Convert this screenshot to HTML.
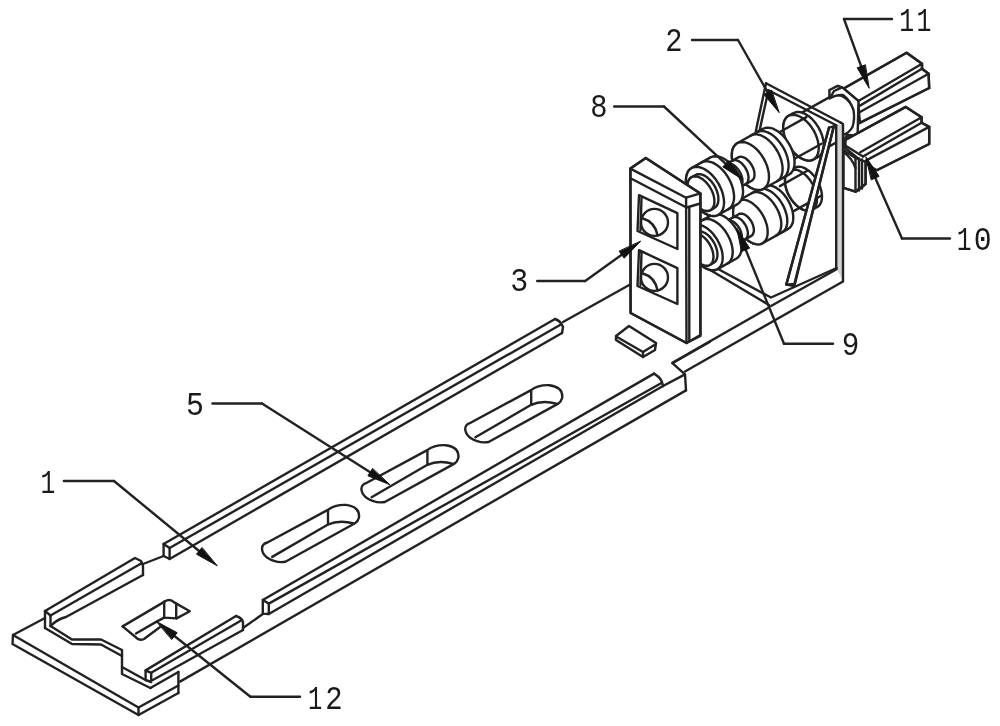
<!DOCTYPE html>
<html><head><meta charset="utf-8"><style>
html,body{margin:0;padding:0;background:#fff;}
svg{display:block;filter:blur(0.3px);}
text{font-family:"Liberation Mono";font-size:33px;fill:#1a1a1a;}
</style></head><body>
<svg width="1000" height="726" viewBox="0 0 1000 726">
<g fill="none" stroke="#222" stroke-width="2.4" stroke-linejoin="round" stroke-linecap="round">
<path d="M45.0,618.0 L13.0,635.0 L138.5,707.5 L178.4,685.5"/>
<path d="M13.0,635.0 L12.5,644.0 L138.5,715.0 L178.4,693.0"/>
<path d="M138.5,707.5 L138.5,715.0"/>
<path d="M178.4,672.0 L178.4,693.0"/>
<path d="M45.0,611.0 L45.0,628.0"/>
<path d="M50.5,615.5 L50.5,626.0"/>
<path d="M50.5,626.0 L72.0,639.5 L101.0,639.5 L122.0,650.0 L122.0,674.0 L150.4,688.0"/>
<path d="M45.0,628.0 L72.0,644.0 L101.0,644.5 L122.0,656.0"/>
<path d="M122.0,667.0 L145.6,680.0"/>
<path d="M150.4,688.0 L178.4,672.0"/>
<path d="M45.0,611.0 L135.0,558.0 L141.0,561.0 L143.0,566.0 L143.0,575.0"/>
<path d="M50.5,615.5 L142.0,563.0"/>
<path d="M51.5,625 Q58,619 66,617 L143,575"/>
<path d="M45.0,611.0 L50.5,615.5"/>
<path d="M143.0,564.0 L163.6,556.0"/>
<path d="M163.6,544.0 L169.6,548.0 L169.6,559.0 L163.6,556.0 L163.6,544.0"/>
<path d="M163.6,544.0 L555.0,319.0"/>
<path d="M555,319 Q561,321 563,327 L562,333"/>
<path d="M169.6,548.0 L560.0,325.0"/>
<path d="M169.6,559.0 L562.0,333.0"/>
<path d="M563.0,322.0 L631.0,284.0"/>
<path d="M145.6,670.4 L151.2,672.8 L151.2,682.0 L145.6,680.0 L145.6,670.4"/>
<path d="M145.6,670.4 L236.0,616.0"/>
<path d="M236,616 Q242,618 243,622 L243,630"/>
<path d="M151.2,672.8 L242.0,620.0"/>
<path d="M152.8,680.0 L243.0,630.0"/>
<path d="M243.0,628.0 L262.8,614.0"/>
<path d="M262.8,600.0 L268.8,603.6 L268.8,614.0 L262.8,613.6 L262.8,600.0"/>
<path d="M262.8,600.0 L654.0,373.6"/>
<path d="M654,373.6 Q660,377 662,382 L663,386"/>
<path d="M268.8,603.6 L661.0,383.3"/>
<path d="M268.8,614.0 L663.0,386.0"/>
<path d="M663.0,386.0 L685.0,374.4 L686.0,390.4"/>
<path d="M180.0,681.6 L686.0,390.4"/>
<path d="M685.0,374.4 L672.4,363.2 L710.0,341.6"/>
<path d="M122.6,626.4 L164.6,601.6"/>
<path d="M164.6,601.6 Q170,598 174.2,602.4 L189.8,611.2 L176.6,618.4"/>
<path d="M164.2,602.0 L164.2,617.6 L176.2,618.4 L176.2,604.0"/>
<path d="M122.6,626.4 L138.2,639.2 Q141,640.5 144,639 L159.8,627.2"/>
<path d="M136.0,633.5 L156.6,621.6 L164.2,617.6"/>
<path d="M262.0,548.5 Q262.0,544.0 267.4,542.5 L327.4,510.1 Q335.0,504.5 346.0,504.9 Q360.0,506.5 359.0,517.5 Q358.0,521.5 355.0,523.3 L285.4,561.7 Q276.0,563.5 267.0,557.5 Q262.0,553.5 262.0,548.5Z"/>
<path d="M328.0,510.1 L328.0,524.5 Q339.0,519.5 354.0,523.5"/>
<path d="M272.2,556.9 L328.0,524.5"/>
<path d="M361.4,488.8 Q361.4,484.3 366.8,482.8 L426.8,450.4 Q434.4,444.8 445.4,445.2 Q459.4,446.8 458.4,457.8 Q457.4,461.8 454.4,463.6 L384.8,502.0 Q375.4,503.8 366.4,497.8 Q361.4,493.8 361.4,488.8Z"/>
<path d="M427.4,450.4 L427.4,464.8 Q438.4,459.8 453.4,463.8"/>
<path d="M371.6,497.2 L427.4,464.8"/>
<path d="M465.2,428.8 Q465.2,424.3 470.6,422.8 L530.6,390.4 Q538.2,384.8 549.2,385.2 Q563.2,386.8 562.2,397.8 Q561.2,401.8 558.2,403.6 L488.6,442.0 Q479.2,443.8 470.2,437.8 Q465.2,433.8 465.2,428.8Z"/>
<path d="M531.2,390.4 L531.2,404.8 Q542.2,399.8 557.2,403.8"/>
<path d="M475.4,437.2 L531.2,404.8"/>
<path d="M616.0,336.0 L629.0,326.0 L656.0,343.0 L655.0,350.0 L643.0,357.0 L616.0,340.0 L616.0,336.0"/>
<path d="M617.0,337.0 L643.0,352.0 L656.0,344.0"/>
<path d="M643.0,352.0 L643.0,357.0"/>
<path d="M843.7,88.5 L906.6,52.7 L922.0,63.7 L922.0,68.7 L928.6,73.7 L929.2,88.0 L860.0,123.0 L858.0,101.0Z" fill="#fff"/>
<path d="M838.0,85.8 L843.7,88.5 L906.6,52.7 L922.0,63.7 L922.0,68.7 L928.6,73.7 L929.2,88.0"/>
<path d="M922.0,63.7 L858.0,101.2"/>
<path d="M922.0,68.7 L860.0,105.6"/>
<path d="M928.6,73.7 L860.0,112.0"/>
<path d="M929.2,88.0 L860.0,122.5"/>
<path d="M790.8,126.1 L791.0,123.5 L791.6,121.1 L792.5,119.1 L793.7,117.5 L795.3,116.3 L832.3,95.6 L834.1,94.8 L836.1,94.6 L838.3,94.8 L840.6,95.5 L843.0,96.6 L845.4,98.2 L847.7,100.2 L849.9,102.5 L851.9,105.1 L853.7,108.0 L855.3,110.9 L856.5,114.0 L857.4,117.1 L858.0,120.0 L858.2,122.9 L858.0,125.5 L857.4,127.9 L856.5,129.9 L855.3,131.5 L853.7,132.7 L816.7,153.4 L814.9,154.2 L812.9,154.4 L810.7,154.2 L808.4,153.5 L806.0,152.4 L803.6,150.8 L801.3,148.8 L799.1,146.5 L797.1,143.9 L795.3,141.1 L793.7,138.1 L792.5,135.0 L791.6,132.0 L791.0,129.0Z" fill="#fff"/>
<path d="M829.4,98.5 L829.4,90 L837.1,86.1 L842.2,87.4 L858.5,101 L857.6,136 L843.9,134.4 Q849,133 852.5,127 Q855,119 853.5,110 Q850,100 843,95 Q836,94.5 829.4,98.5 Z" fill="#fff"/>
<path d="M831.0,96.4 L834.0,91.0 L842.2,87.4"/>
<path d="M845.2,140.0 L905.8,106.9 L921.6,117.2 L921.6,122.7 L929.2,126.9 L929.2,144.0 L876.8,170.2 L860.0,160.0 L845.2,148.0Z" fill="#fff"/>
<path d="M845.2,148.0 L845.2,140.0 L905.8,106.9 L921.6,117.2 L921.6,122.7 L929.2,126.9 L929.2,144.0 L876.8,170.2"/>
<path d="M921.6,117.2 L860.3,152.3"/>
<path d="M921.6,122.7 L863.0,156.5"/>
<path d="M929.2,126.9 L865.8,160.6"/>
<path d="M845.2,145.5 L863.0,156.5"/>
<path d="M843.5,150 L855.5,158 L865.6,161.8 L865.6,184 L855.5,191.7 L843.5,187.8 Z" fill="#fff"/>
<path d="M843.5,187.8 L855.5,191.7 L865.6,184.0 L865.6,161.8"/>
<path d="M855.5,158.0 L855.5,191.7"/>
<path d="M859.0,158.5 L859.0,190.5"/>
<path d="M862.0,159.5 L862.0,188.5"/>
<path d="M843.5,152 Q852,158 855.5,168"/>
<path d="M766.0,83.2 L841.0,122.8"/>
<path d="M768.0,90.0 L836.2,125.2"/>
<path d="M766.0,83.2 L755.8,131.2"/>
<path d="M768.4,90.4 L759.4,131.2"/>
<path d="M836.2,125.2 L843,124 L843,281 L836.2,268 Z" fill="#d4d4d4" stroke="none"/>
<path d="M836.2,125.2 L836.2,268.0"/>
<path d="M841.0,122.8 L843.0,124.0 L843.0,281.0"/>
<path d="M706.0,267.5 L769.0,305.0"/>
<path d="M719.0,269.5 L771.0,297.5 L836.6,268.0"/>
<path d="M672.4,362.8 L769.0,307.5"/>
<path d="M771.0,306.0 L836.6,269.2"/>
<path d="M685.0,371.5 L843.0,281.5"/>
<path d="M785.0,180.9 L785.2,178.1 L785.8,175.6 L786.7,173.5 L788.0,171.8 L789.7,170.5 L794.7,167.7 L796.6,167.0 L798.7,166.7 L801.0,166.9 L803.5,167.6 L806.0,168.9 L808.5,170.5 L811.0,172.6 L813.3,175.1 L815.4,177.8 L817.3,180.8 L819.0,184.0 L820.3,187.2 L821.2,190.4 L821.8,193.6 L822.0,196.6 L821.8,199.4 L821.2,201.9 L820.3,204.0 L819.0,205.7 L817.3,207.0 L812.3,209.8 L810.4,210.6 L808.3,210.8 L806.0,210.6 L803.5,209.9 L801.0,208.7 L798.5,207.0 L796.0,204.9 L793.7,202.4 L791.6,199.7 L789.7,196.7 L788.0,193.6 L786.7,190.3 L785.8,187.1 L785.2,183.9Z" fill="#fff"/>
<path d="M817.0,199.4 L816.8,202.2 L816.2,204.7 L815.3,206.8 L814.0,208.5 L812.3,209.8 L810.4,210.6 L808.3,210.8 L806.0,210.6 L803.5,209.9 L801.0,208.7 L798.5,207.0 L796.0,204.9 L793.7,202.4 L791.6,199.7 L789.7,196.7 L788.0,193.6 L786.7,190.3 L785.8,187.1 L785.2,183.9 L785.0,180.9 L785.2,178.1 L785.8,175.6 L786.7,173.5 L788.0,171.8 L789.7,170.5 L791.6,169.8 L793.7,169.5 L796.0,169.7 L798.5,170.4 L801.0,171.7 L803.5,173.3 L806.0,175.4 L808.3,177.9 L810.4,180.6 L812.3,183.6 L814.0,186.8 L815.3,190.0 L816.2,193.2 L816.8,196.4Z" fill="#fff"/>
<path d="M794.1,210.9 L821.1,195.7"/>
<path d="M779.9,186.1 L806.9,171.0"/>
<path d="M733.1,212.0 L733.3,209.0 L733.9,206.3 L735.0,204.0 L736.4,202.2 L738.2,200.8 L763.8,186.5 L765.8,185.6 L768.1,185.3 L770.6,185.6 L773.3,186.4 L776.0,187.7 L778.7,189.5 L781.4,191.7 L783.9,194.4 L786.2,197.4 L788.2,200.6 L790.0,204.0 L791.4,207.5 L792.5,211.0 L793.1,214.4 L793.3,217.7 L793.1,220.7 L792.5,223.4 L791.4,225.6 L790.0,227.5 L788.2,228.9 L762.6,243.2 L760.6,244.1 L758.3,244.4 L755.8,244.1 L753.1,243.3 L750.4,242.0 L747.7,240.2 L745.0,237.9 L742.5,235.3 L740.2,232.3 L738.2,229.1 L736.4,225.7 L735.0,222.2 L733.9,218.7 L733.3,215.3Z" fill="#fff"/>
<path d="M751.8,193.1 L753.6,192.4 L755.5,192.1 L757.5,192.1 L759.6,192.5 L761.9,193.3 L764.1,194.5 L766.4,196.0 L768.6,197.8 L770.7,199.9 L772.8,202.2 L774.6,204.8 L776.3,207.5 L777.8,210.3 L779.1,213.2 L780.0,216.1 L780.8,219.0 L781.2,221.8 L781.3,224.5 L781.1,227.0 L780.7,229.3 L779.9,231.4 L778.9,233.1 L777.7,234.6 L776.2,235.6"/>
<path d="M757.8,189.8 L759.6,189.0 L761.5,188.7 L763.5,188.7 L765.6,189.2 L767.9,190.0 L770.1,191.1 L772.4,192.6 L774.6,194.4 L776.7,196.5 L778.8,198.8 L780.6,201.4 L782.3,204.1 L783.8,206.9 L785.1,209.9 L786.0,212.8 L786.8,215.7 L787.2,218.5 L787.3,221.2 L787.1,223.7 L786.7,226.0 L785.9,228.0 L784.9,229.8 L783.7,231.2 L782.2,232.3"/>
<path d="M767.7,232.0 L767.5,235.0 L766.9,237.7 L765.8,240.0 L764.4,241.8 L762.6,243.2 L760.6,244.1 L758.3,244.4 L755.8,244.1 L753.1,243.3 L750.4,242.0 L747.7,240.2 L745.0,237.9 L742.5,235.3 L740.2,232.3 L738.2,229.1 L736.4,225.7 L735.0,222.2 L733.9,218.7 L733.3,215.3 L733.1,212.0 L733.3,209.0 L733.9,206.3 L735.0,204.0 L736.4,202.2 L738.2,200.8 L740.2,199.9 L742.5,199.6 L745.0,199.9 L747.7,200.7 L750.4,202.0 L753.1,203.8 L755.8,206.1 L758.3,208.7 L760.6,211.7 L762.6,214.9 L764.4,218.3 L765.8,221.8 L766.9,225.3 L767.5,228.7Z" fill="#fff"/>
<path d="M724.1,226.6 L724.2,225.1 L724.6,223.7 L725.1,222.5 L725.8,221.6 L726.7,220.9 L738.7,214.2 L739.8,213.7 L741.0,213.6 L742.3,213.7 L743.6,214.1 L745.0,214.8 L746.4,215.7 L747.7,216.9 L749.0,218.2 L750.2,219.8 L751.3,221.4 L752.2,223.1 L752.9,224.9 L753.4,226.7 L753.8,228.5 L753.9,230.1 L753.8,231.7 L753.4,233.0 L752.9,234.2 L752.2,235.2 L751.3,235.9 L739.3,242.6 L738.2,243.0 L737.0,243.2 L735.7,243.1 L734.4,242.6 L733.0,242.0 L731.6,241.0 L730.3,239.9 L729.0,238.5 L727.8,237.0 L726.7,235.4 L725.8,233.6 L725.1,231.8 L724.6,230.0 L724.2,228.3Z" fill="#fff"/>
<path d="M732.8,217.5 L733.7,217.1 L734.6,217.0 L735.7,217.0 L736.8,217.2 L737.9,217.6 L739.1,218.2 L740.2,219.0 L741.4,219.9 L742.5,221.0 L743.5,222.2 L744.4,223.5 L745.3,224.8 L746.1,226.3 L746.7,227.8 L747.2,229.3 L747.6,230.8 L747.8,232.2 L747.9,233.6 L747.8,234.9 L747.5,236.0 L747.2,237.1 L746.6,238.0 L746.0,238.7 L745.2,239.3"/>
<path d="M741.9,236.9 L741.8,238.4 L741.4,239.8 L740.9,240.9 L740.2,241.9 L739.3,242.6 L738.2,243.0 L737.0,243.2 L735.7,243.1 L734.4,242.6 L733.0,242.0 L731.6,241.0 L730.3,239.9 L729.0,238.5 L727.8,237.0 L726.7,235.4 L725.8,233.6 L725.1,231.8 L724.6,230.0 L724.2,228.3 L724.1,226.6 L724.2,225.1 L724.6,223.7 L725.1,222.5 L725.8,221.6 L726.7,220.9 L727.8,220.5 L729.0,220.3 L730.3,220.4 L731.6,220.8 L733.0,221.5 L734.4,222.4 L735.7,223.6 L737.0,225.0 L738.2,226.5 L739.3,228.1 L740.2,229.9 L740.9,231.7 L741.4,233.4 L741.8,235.2Z" fill="#fff"/>
<path d="M687.3,237.2 L687.5,234.1 L688.1,231.4 L689.2,229.0 L690.7,227.1 L692.5,225.7 L711.5,215.1 L713.6,214.2 L716.0,213.9 L718.5,214.2 L721.2,215.0 L724.0,216.3 L726.8,218.2 L729.5,220.5 L732.0,223.2 L734.4,226.2 L736.5,229.6 L738.3,233.0 L739.8,236.6 L740.9,240.2 L741.5,243.7 L741.7,247.0 L741.5,250.1 L740.9,252.8 L739.8,255.2 L738.3,257.1 L736.5,258.5 L717.5,269.1 L715.4,270.0 L713.0,270.3 L710.5,270.0 L707.8,269.2 L705.0,267.9 L702.2,266.0 L699.5,263.7 L697.0,261.0 L694.6,258.0 L692.5,254.7 L690.7,251.2 L689.2,247.6 L688.1,244.0 L687.5,240.5Z" fill="#fff"/>
<path d="M702.6,220.1 L704.3,219.3 L706.3,219.0 L708.3,219.0 L710.5,219.4 L712.8,220.3 L715.1,221.4 L717.4,223.0 L719.7,224.8 L721.9,227.0 L724.0,229.4 L725.9,232.0 L727.6,234.8 L729.1,237.7 L730.4,240.6 L731.4,243.6 L732.1,246.6 L732.6,249.5 L732.7,252.2 L732.5,254.8 L732.1,257.1 L731.3,259.2 L730.3,261.0 L729.0,262.5 L727.4,263.6"/>
<path d="M722.7,257.7 L722.5,260.7 L721.9,263.5 L720.8,265.8 L719.3,267.7 L717.5,269.1 L715.4,270.0 L713.0,270.3 L710.5,270.0 L707.8,269.2 L705.0,267.9 L702.2,266.0 L699.5,263.7 L697.0,261.0 L694.6,258.0 L692.5,254.7 L690.7,251.2 L689.2,247.6 L688.1,244.0 L687.5,240.5 L687.3,237.2 L687.5,234.1 L688.1,231.4 L689.2,229.0 L690.7,227.1 L692.5,225.7 L694.6,224.9 L697.0,224.5 L699.5,224.8 L702.2,225.6 L705.0,227.0 L707.8,228.8 L710.5,231.1 L713.0,233.8 L715.4,236.9 L717.5,240.2 L719.3,243.7 L720.8,247.3 L721.9,250.8 L722.5,254.3Z" fill="#fff"/>
<path d="M688.5,242.5 L688.7,240.3 L689.1,238.4 L689.9,236.7 L690.9,235.4 L692.2,234.4 L696.2,232.1 L697.7,231.5 L699.3,231.3 L701.1,231.5 L703.0,232.1 L705.0,233.0 L707.0,234.3 L708.9,235.9 L710.7,237.9 L712.3,240.0 L713.8,242.3 L715.1,244.8 L716.1,247.3 L716.9,249.8 L717.3,252.3 L717.5,254.6 L717.3,256.8 L716.9,258.7 L716.1,260.4 L715.1,261.7 L713.8,262.7 L709.8,265.0 L708.3,265.6 L706.7,265.8 L704.9,265.6 L703.0,265.0 L701.0,264.1 L699.0,262.8 L697.1,261.1 L695.3,259.2 L693.7,257.1 L692.2,254.8 L690.9,252.3 L689.9,249.8 L689.1,247.3 L688.7,244.8Z" fill="#fff"/>
<path d="M713.5,256.9 L713.3,259.0 L712.9,261.0 L712.1,262.6 L711.1,264.0 L709.8,265.0 L708.3,265.6 L706.7,265.8 L704.9,265.6 L703.0,265.0 L701.0,264.1 L699.0,262.8 L697.1,261.1 L695.3,259.2 L693.7,257.1 L692.2,254.8 L690.9,252.3 L689.9,249.8 L689.1,247.3 L688.7,244.8 L688.5,242.5 L688.7,240.3 L689.1,238.4 L689.9,236.7 L690.9,235.4 L692.2,234.4 L693.7,233.8 L695.3,233.5 L697.1,233.7 L699.0,234.3 L701.0,235.2 L703.0,236.6 L704.9,238.2 L706.7,240.1 L708.3,242.2 L709.8,244.6 L711.1,247.0 L712.1,249.5 L712.9,252.1 L713.3,254.5Z" fill="#fff"/>
<path d="M783.2,127.4 L783.5,124.3 L784.1,121.6 L785.2,119.2 L786.6,117.3 L788.4,115.9 L793.4,113.1 L795.6,112.3 L797.9,111.9 L800.5,112.2 L803.2,113.0 L806.0,114.4 L808.8,116.2 L811.5,118.5 L814.1,121.3 L816.4,124.3 L818.6,127.6 L820.4,131.1 L821.8,134.7 L822.9,138.3 L823.5,141.8 L823.8,145.1 L823.5,148.2 L822.9,150.9 L821.8,153.3 L820.4,155.2 L818.6,156.6 L813.6,159.4 L811.4,160.3 L809.1,160.6 L806.5,160.3 L803.8,159.5 L801.0,158.2 L798.2,156.3 L795.5,154.0 L792.9,151.3 L790.6,148.2 L788.4,144.9 L786.6,141.4 L785.2,137.8 L784.1,134.3 L783.5,130.7Z" fill="#fff"/>
<path d="M818.8,147.9 L818.5,151.0 L817.9,153.7 L816.8,156.1 L815.4,158.0 L813.6,159.4 L811.4,160.3 L809.1,160.6 L806.5,160.3 L803.8,159.5 L801.0,158.2 L798.2,156.3 L795.5,154.0 L792.9,151.3 L790.6,148.2 L788.4,144.9 L786.6,141.4 L785.2,137.8 L784.1,134.3 L783.5,130.7 L783.2,127.4 L783.5,124.3 L784.1,121.6 L785.2,119.2 L786.6,117.3 L788.4,115.9 L790.6,115.1 L792.9,114.7 L795.5,115.0 L798.2,115.8 L801.0,117.2 L803.8,119.0 L806.5,121.3 L809.1,124.1 L811.4,127.1 L813.6,130.4 L815.4,133.9 L816.8,137.5 L817.9,141.1 L818.5,144.6Z" fill="#fff"/>
<path d="M794.6,158.8 L821.6,143.7"/>
<path d="M779.4,132.2 L806.4,117.1"/>
<path d="M731.8,155.2 L732.0,152.0 L732.7,149.1 L733.8,146.7 L735.3,144.7 L737.2,143.2 L762.8,128.9 L765.1,128.0 L767.5,127.6 L770.2,127.9 L773.1,128.7 L776.0,130.2 L778.9,132.1 L781.8,134.5 L784.5,137.4 L786.9,140.6 L789.2,144.1 L791.1,147.7 L792.6,151.5 L793.7,155.2 L794.4,158.9 L794.6,162.4 L794.4,165.6 L793.7,168.5 L792.6,171.0 L791.1,173.0 L789.2,174.5 L763.6,188.8 L761.3,189.7 L758.9,190.0 L756.2,189.8 L753.3,188.9 L750.4,187.5 L747.5,185.6 L744.6,183.1 L741.9,180.3 L739.5,177.1 L737.2,173.6 L735.3,169.9 L733.8,166.2 L732.7,162.4 L732.0,158.7Z" fill="#fff"/>
<path d="M750.9,135.5 L752.8,134.7 L754.8,134.4 L757.0,134.4 L759.3,134.9 L761.7,135.7 L764.1,137.0 L766.6,138.6 L769.0,140.5 L771.3,142.8 L773.4,145.3 L775.4,148.0 L777.3,151.0 L778.9,154.0 L780.2,157.1 L781.3,160.3 L782.0,163.4 L782.5,166.4 L782.6,169.3 L782.4,172.0 L781.9,174.5 L781.1,176.7 L780.1,178.5 L778.7,180.1 L777.1,181.2"/>
<path d="M756.9,132.2 L758.8,131.4 L760.8,131.0 L763.0,131.1 L765.3,131.5 L767.7,132.4 L770.1,133.6 L772.6,135.2 L775.0,137.2 L777.3,139.4 L779.4,141.9 L781.4,144.7 L783.3,147.6 L784.9,150.6 L786.2,153.8 L787.3,156.9 L788.0,160.0 L788.5,163.0 L788.6,165.9 L788.4,168.6 L787.9,171.1 L787.1,173.3 L786.1,175.2 L784.7,176.7 L783.1,177.9"/>
<path d="M769.0,176.8 L768.8,180.0 L768.1,182.9 L767.0,185.3 L765.5,187.3 L763.6,188.8 L761.3,189.7 L758.9,190.0 L756.2,189.8 L753.3,188.9 L750.4,187.5 L747.5,185.6 L744.6,183.1 L741.9,180.3 L739.5,177.1 L737.2,173.6 L735.3,169.9 L733.8,166.2 L732.7,162.4 L732.0,158.7 L731.8,155.2 L732.0,152.0 L732.7,149.1 L733.8,146.7 L735.3,144.7 L737.2,143.2 L739.5,142.3 L741.9,142.0 L744.6,142.2 L747.5,143.1 L750.4,144.5 L753.3,146.4 L756.2,148.9 L758.9,151.7 L761.3,154.9 L763.6,158.4 L765.5,162.1 L767.0,165.8 L768.1,169.6 L768.8,173.3Z" fill="#fff"/>
<path d="M723.5,170.2 L723.6,168.6 L723.9,167.1 L724.5,165.8 L725.3,164.8 L726.3,164.1 L738.3,157.4 L739.4,156.9 L740.7,156.7 L742.1,156.9 L743.5,157.3 L745.0,158.0 L746.5,159.0 L747.9,160.3 L749.3,161.7 L750.6,163.4 L751.7,165.1 L752.7,167.0 L753.5,168.9 L754.1,170.9 L754.4,172.7 L754.5,174.5 L754.4,176.2 L754.1,177.7 L753.5,178.9 L752.7,179.9 L751.7,180.7 L739.7,187.4 L738.6,187.9 L737.3,188.0 L735.9,187.9 L734.5,187.5 L733.0,186.7 L731.5,185.7 L730.1,184.5 L728.7,183.0 L727.4,181.4 L726.3,179.6 L725.3,177.8 L724.5,175.8 L723.9,173.9 L723.6,172.0Z" fill="#fff"/>
<path d="M732.3,160.7 L733.3,160.3 L734.3,160.1 L735.4,160.1 L736.6,160.4 L737.8,160.8 L739.1,161.4 L740.3,162.2 L741.5,163.2 L742.7,164.4 L743.8,165.7 L744.9,167.1 L745.8,168.6 L746.6,170.1 L747.3,171.7 L747.8,173.3 L748.2,174.9 L748.5,176.5 L748.5,178.0 L748.4,179.3 L748.2,180.6 L747.8,181.7 L747.2,182.7 L746.5,183.5 L745.7,184.1"/>
<path d="M742.5,181.2 L742.4,182.9 L742.1,184.4 L741.5,185.6 L740.7,186.7 L739.7,187.4 L738.6,187.9 L737.3,188.0 L735.9,187.9 L734.5,187.5 L733.0,186.7 L731.5,185.7 L730.1,184.5 L728.7,183.0 L727.4,181.4 L726.3,179.6 L725.3,177.8 L724.5,175.8 L723.9,173.9 L723.6,172.0 L723.5,170.2 L723.6,168.6 L723.9,167.1 L724.5,165.8 L725.3,164.8 L726.3,164.1 L727.4,163.6 L728.7,163.4 L730.1,163.6 L731.5,164.0 L733.0,164.7 L734.5,165.7 L735.9,167.0 L737.3,168.4 L738.6,170.1 L739.7,171.9 L740.7,173.7 L741.5,175.7 L742.1,177.6 L742.4,179.5Z" fill="#fff"/>
<path d="M685.9,180.4 L686.2,177.1 L686.9,174.2 L688.0,171.6 L689.6,169.6 L691.5,168.1 L710.5,157.4 L712.8,156.5 L715.4,156.2 L718.1,156.5 L721.0,157.3 L724.0,158.8 L727.0,160.8 L729.9,163.3 L732.6,166.2 L735.2,169.5 L737.5,173.0 L739.4,176.8 L741.0,180.6 L742.1,184.4 L742.8,188.2 L743.1,191.8 L742.8,195.1 L742.1,198.0 L741.0,200.6 L739.4,202.6 L737.5,204.1 L718.5,214.8 L716.2,215.7 L713.6,216.0 L710.9,215.7 L708.0,214.9 L705.0,213.4 L702.0,211.4 L699.1,208.9 L696.4,206.0 L693.8,202.8 L691.5,199.2 L689.6,195.5 L688.0,191.6 L686.9,187.8 L686.2,184.0Z" fill="#fff"/>
<path d="M701.6,162.4 L703.5,161.6 L705.6,161.3 L707.8,161.3 L710.2,161.8 L712.7,162.6 L715.1,163.9 L717.6,165.6 L720.1,167.5 L722.4,169.8 L724.7,172.4 L726.7,175.2 L728.6,178.2 L730.2,181.3 L731.6,184.5 L732.7,187.8 L733.4,190.9 L733.9,194.0 L734.1,197.0 L733.9,199.8 L733.4,202.3 L732.5,204.5 L731.4,206.5 L730.0,208.0 L728.4,209.2"/>
<path d="M724.1,202.4 L723.8,205.7 L723.1,208.7 L722.0,211.2 L720.4,213.3 L718.5,214.8 L716.2,215.7 L713.6,216.0 L710.9,215.7 L708.0,214.9 L705.0,213.4 L702.0,211.4 L699.1,208.9 L696.4,206.0 L693.8,202.8 L691.5,199.2 L689.6,195.5 L688.0,191.6 L686.9,187.8 L686.2,184.0 L685.9,180.4 L686.2,177.1 L686.9,174.2 L688.0,171.6 L689.6,169.6 L691.5,168.1 L693.8,167.2 L696.4,166.8 L699.1,167.1 L702.0,168.0 L705.0,169.4 L708.0,171.4 L710.9,173.9 L713.6,176.8 L716.2,180.1 L718.5,183.6 L720.4,187.4 L722.0,191.2 L723.1,195.1 L723.8,198.8Z" fill="#fff"/>
<path d="M687.6,185.9 L687.7,183.6 L688.2,181.5 L689.0,179.7 L690.1,178.3 L691.5,177.2 L695.5,175.0 L697.1,174.3 L698.9,174.1 L700.9,174.3 L702.9,174.9 L705.0,175.9 L707.1,177.3 L709.1,179.1 L711.1,181.1 L712.9,183.4 L714.5,185.9 L715.9,188.6 L717.0,191.3 L717.8,194.0 L718.3,196.7 L718.4,199.2 L718.3,201.5 L717.8,203.6 L717.0,205.4 L715.9,206.8 L714.5,207.9 L710.5,210.1 L708.9,210.8 L707.1,211.0 L705.1,210.8 L703.1,210.2 L701.0,209.2 L698.9,207.8 L696.9,206.0 L694.9,204.0 L693.1,201.6 L691.5,199.1 L690.1,196.5 L689.0,193.8 L688.2,191.1 L687.7,188.4Z" fill="#fff"/>
<path d="M714.4,201.4 L714.3,203.7 L713.8,205.8 L713.0,207.6 L711.9,209.0 L710.5,210.1 L708.9,210.8 L707.1,211.0 L705.1,210.8 L703.1,210.2 L701.0,209.2 L698.9,207.8 L696.9,206.0 L694.9,204.0 L693.1,201.6 L691.5,199.1 L690.1,196.5 L689.0,193.8 L688.2,191.1 L687.7,188.4 L687.6,185.9 L687.7,183.6 L688.2,181.5 L689.0,179.7 L690.1,178.3 L691.5,177.2 L693.1,176.6 L694.9,176.3 L696.9,176.5 L698.9,177.1 L701.0,178.2 L703.1,179.6 L705.1,181.3 L707.1,183.4 L708.9,185.7 L710.5,188.2 L711.9,190.8 L713.0,193.5 L713.8,196.2 L714.3,198.9Z" fill="#fff"/>
<path d="M829.0,127.6 L833.8,126.4 L794.4,284.0 L786.3,284.6Z" fill="#fff"/>
<path d="M829.0,127.6 L786.3,284.6 L794.4,286.0 L833.8,126.4"/>
<path d="M630.4,168.6 L645.8,158.0 L700.4,193.4 L700.4,336.0 L686.5,343.0 L630.6,313.0Z" fill="#fff"/>
<path d="M630.4,168.6 L645.8,158.0 L700.4,193.4 L686.1,197.7 L630.4,168.6"/>
<path d="M631.0,178.5 L686.5,207.5 L700.4,203.5"/>
<path d="M630.4,168.6 L630.6,313.0 L686.5,343.0 L700.4,335.0 L700.4,193.4"/>
<path d="M686.1,197.7 L686.5,343.0"/>
<path d="M689.3,208.0 L689.3,341.0"/>
<path d="M639.0,195.2 L677.4,213.2 L677.4,249.0 L637.5,231.0 L639.0,195.2"/>
<path d="M641.5,198.0 L640.5,230.0"/>
<ellipse cx="654.5" cy="222.4" rx="13.5" ry="13.5"/>
<path d="M643,218.5 Q655,222 657.6,235.5"/>
<path d="M639.0,250.2 L677.4,268.2 L677.4,304.0 L637.5,286.0 L639.0,250.2"/>
<path d="M641.5,253.0 L640.5,285.0"/>
<ellipse cx="654.5" cy="277.4" rx="13.5" ry="13.5"/>
<path d="M643,273.5 Q655,277 657.6,290.5"/>
<path d="M892.0,19.0 L844.0,19.0"/>
<path d="M844.0,19.0 L861.2,66.4"/>
<path d="M869.0,88.0 L857.2,67.8 L865.1,64.9Z" fill="#111" stroke="#111" stroke-width="1"/>
<path d="M692.0,40.0 L738.0,40.0"/>
<path d="M738.0,40.0 L767.7,92.4"/>
<path d="M779.0,112.4 L764.0,94.5 L771.3,90.3Z" fill="#111" stroke="#111" stroke-width="1"/>
<path d="M614.2,106.5 L664.0,106.5"/>
<path d="M664.0,106.5 L725.7,163.8"/>
<path d="M742.5,179.5 L722.8,166.9 L728.5,160.8Z" fill="#111" stroke="#111" stroke-width="1"/>
<path d="M537.2,281.0 L585.2,281.0"/>
<path d="M585.2,281.0 L621.7,254.8"/>
<path d="M640.4,241.4 L624.2,258.2 L619.3,251.4Z" fill="#111" stroke="#111" stroke-width="1"/>
<path d="M949.9,238.5 L902.0,238.5"/>
<path d="M902.0,238.5 L875.3,178.0"/>
<path d="M866.0,157.0 L879.1,176.3 L871.5,179.7Z" fill="#111" stroke="#111" stroke-width="1"/>
<path d="M833.0,343.7 L784.0,343.7"/>
<path d="M784.0,343.7 L745.7,249.8"/>
<path d="M737.0,228.5 L749.6,248.2 L741.8,251.4Z" fill="#111" stroke="#111" stroke-width="1"/>
<path d="M212.5,403.5 L262.0,403.5"/>
<path d="M262.0,403.5 L370.2,472.3"/>
<path d="M389.6,484.6 L367.9,475.8 L372.4,468.7Z" fill="#111" stroke="#111" stroke-width="1"/>
<path d="M63.9,481.0 L114.0,481.0"/>
<path d="M114.0,481.0 L199.1,551.0"/>
<path d="M216.9,565.6 L196.5,554.2 L201.8,547.7Z" fill="#111" stroke="#111" stroke-width="1"/>
<path d="M300.0,696.8 L250.4,696.8"/>
<path d="M250.4,696.8 L174.5,636.0"/>
<path d="M156.6,621.6 L177.2,632.7 L171.9,639.3Z" fill="#111" stroke="#111" stroke-width="1"/>
</g>
<g>
<text transform="translate(899.18,31.00) scale(0.754,1)" x="0" y="0">1</text><text transform="translate(916.58,31.00) scale(0.754,1)" x="0" y="0">1</text><text transform="translate(665.23,50.60) scale(0.870,1)" x="0" y="0">2</text><text transform="translate(590.23,117.30) scale(0.870,1)" x="0" y="0">8</text><text transform="translate(510.35,291.30) scale(0.909,1)" x="0" y="0">3</text><text transform="translate(956.70,249.60) scale(0.748,1)" x="0" y="0">1</text><text transform="translate(973.86,249.60) scale(0.903,1)" x="0" y="0">0</text><text transform="translate(841.79,355.40) scale(0.890,1)" x="0" y="0">9</text><text transform="translate(186.06,415.40) scale(0.903,1)" x="0" y="0">5</text><text transform="translate(40.50,492.60) scale(0.748,1)" x="0" y="0">1</text><text transform="translate(308.05,708.70) scale(0.722,1)" x="0" y="0">1</text><text transform="translate(325.32,708.70) scale(0.877,1)" x="0" y="0">2</text>
</g>
</svg>
</body></html>
